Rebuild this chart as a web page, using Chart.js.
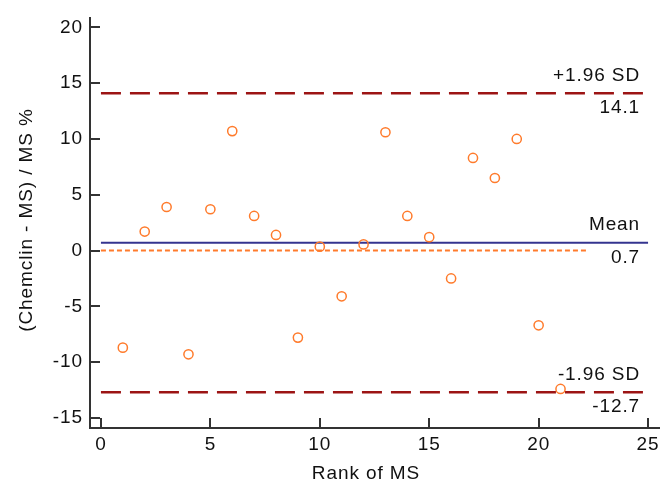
<!DOCTYPE html>
<html>
<head>
<meta charset="utf-8">
<script src="https://cdn.jsdelivr.net/npm/chart.js@4/dist/chart.umd.min.js"></script>
<style>
  html, body { margin: 0; padding: 0; background: #fff; }
  #wrap { width: 672px; height: 487px; }
</style>
</head>
<body>
<div id="wrap"><canvas id="bland"></canvas></div>
<script>
// --- Data ---
const ranks = [1, 2, 3, 4, 5, 6, 7, 8, 9, 10, 11, 12, 13, 14, 15, 16, 17, 18, 19, 20, 21];
const diffPct = [-8.7, 1.7, 3.9, -9.3, 3.7, 10.7, 3.1, 1.4, -7.8, 0.35, -4.1, 0.55, 10.6, 3.1, 1.2, -2.5, 8.3, 6.5, 10.0, -6.7, -12.4];
const meanDiff = 0.7;
const upperLimit = 14.1;
const lowerLimit = -12.7;
const lineStart = 0;
const lineEnd = 25;
const zeroLineEnd = 22.2;
const xTicks = [0, 5, 10, 15, 20, 25];
const yTicks = [-15, -10, -5, 0, 5, 10, 15, 20];

const FONT = "'Liberation Sans', Arial, sans-serif";
const FONT_SIZE = 19;
const AXIS_COLOR = "#333333";
const SPACING = "0.9px";

// --- Helpers ---
function hline(y, x0, x1) {
  return [{ x: x0, y: y }, { x: x1, y: y }];
}

// inward tick marks, labels on the reference lines, axis titles
const decorPlugin = {
  id: "decor",
  beforeDraw(chart) {
    chart.ctx.letterSpacing = SPACING;
  },
  afterDraw(chart) {
    const ctx = chart.ctx;
    const xs = chart.scales.x, ys = chart.scales.y;
    const area = chart.chartArea;
    ctx.save();
    ctx.strokeStyle = AXIS_COLOR;
    ctx.lineWidth = 2;
    xTicks.forEach(v => {
      const px = Math.round(xs.getPixelForValue(v));
      ctx.beginPath();
      ctx.moveTo(px, area.bottom);
      ctx.lineTo(px, area.bottom - 10);
      ctx.stroke();
    });
    yTicks.forEach(v => {
      const py = Math.round(ys.getPixelForValue(v));
      ctx.beginPath();
      ctx.moveTo(area.left, py);
      ctx.lineTo(area.left + 10, py);
      ctx.stroke();
    });

    ctx.letterSpacing = SPACING;
    ctx.fillStyle = "#111";
    ctx.font = FONT_SIZE + "px " + FONT;
    ctx.textAlign = "right";
    ctx.textBaseline = "alphabetic";
    const rx = xs.getPixelForValue(lineEnd) - 8;
    const labels = [
      [upperLimit, "+1.96 SD", upperLimit.toFixed(1)],
      [meanDiff, "Mean", meanDiff.toFixed(1)],
      [lowerLimit, "-1.96 SD", lowerLimit.toFixed(1)]
    ];
    labels.forEach(([v, above, below]) => {
      const py = ys.getPixelForValue(v);
      ctx.fillText(above, rx, py - 12.5);
      ctx.fillText(below, rx, py + 20);
    });

    // axis titles
    ctx.textAlign = "center";
    ctx.textBaseline = "middle";
    ctx.fillText("Rank of MS", 366, 474);
    ctx.translate(27, 220);
    ctx.rotate(-Math.PI / 2);
    ctx.fillText("(Chemclin - MS) / MS %", 0, 0);
    ctx.restore();
  }
};

const ctx = document.getElementById("bland");
const chart = new Chart(ctx, {
  type: "scatter",
  data: {
    datasets: [
      {
        label: "Difference",
        data: ranks.map((r, i) => ({ x: r, y: diffPct[i] })),
        pointStyle: "circle",
        pointRadius: 4.6,
        pointBorderWidth: 1.5,
        pointBorderColor: "#ff7b2c",
        pointBackgroundColor: "rgba(255,255,255,0)",
        order: 0
      },
      {
        label: "Mean",
        type: "line",
        data: hline(meanDiff, lineStart, lineEnd),
        borderColor: "#34348f",
        borderWidth: 2,
        pointRadius: 0,
        order: 2
      },
      {
        label: "Zero",
        type: "line",
        data: hline(0, lineStart, zeroLineEnd),
        borderColor: "#ff7b2c",
        borderWidth: 2,
        borderDash: [5, 3],
        pointRadius: 0,
        order: 3
      },
      {
        label: "+1.96 SD",
        type: "line",
        data: hline(upperLimit, lineStart, lineEnd),
        borderColor: "#9c1414",
        borderWidth: 2.5,
        borderDash: [20, 9],
        pointRadius: 0,
        order: 1
      },
      {
        label: "-1.96 SD",
        type: "line",
        data: hline(lowerLimit, lineStart, lineEnd),
        borderColor: "#9c1414",
        borderWidth: 2.5,
        borderDash: [20, 9],
        pointRadius: 0,
        order: 1
      }
    ]
  },
  options: {
    responsive: true,
    maintainAspectRatio: false,
    animation: false,
    layout: { padding: { top: 13, right: 13, left: 0, bottom: 0 } },
    plugins: {
      legend: { display: false },
      tooltip: { enabled: false }
    },
    scales: {
      x: {
        type: "linear",
        min: -0.5,
        max: 25.5,
        grid: { display: false, drawTicks: false },
        border: { display: true, color: AXIS_COLOR, width: 2 },
        ticks: {
          stepSize: 5,
          includeBounds: false,
          color: "#111",
          padding: 5,
          maxRotation: 0,
          font: { family: FONT, size: FONT_SIZE }
        },
        afterFit(scale) { scale.height = 59; }
      },
      y: {
        type: "linear",
        min: -15.9,
        max: 20.8,
        grid: { display: false, drawTicks: false },
        border: { display: true, color: AXIS_COLOR, width: 2 },
        ticks: {
          stepSize: 5,
          includeBounds: false,
          color: "#111",
          padding: 7,
          font: { family: FONT, size: FONT_SIZE }
        },
        afterFit(scale) { scale.width = 90; }
      }
    }
  },
  plugins: [decorPlugin]
});
</script>
</body>
</html>
